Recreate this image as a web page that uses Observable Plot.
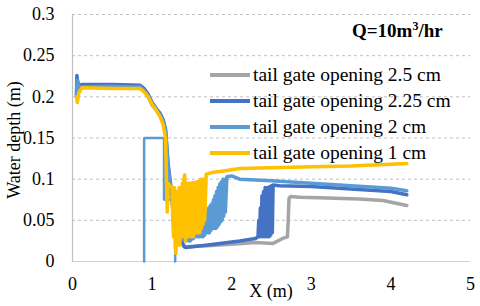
<!DOCTYPE html>
<html><head><meta charset="utf-8">
<script src="https://cdn.jsdelivr.net/npm/d3@7"></script>
<script src="https://cdn.jsdelivr.net/npm/@observablehq/plot@0.6"></script>
<style>
html,body{margin:0;padding:0;background:#fff;}
#chart{width:480px;height:306px;overflow:hidden;}
#chart svg, #chart svg text{font-family:'Liberation Serif','Times New Roman',serif !important;}
</style></head><body><div id="chart"></div>
<script>
const seriesNames = ["tail gate opening 2.5 cm","tail gate opening 2.25 cm","tail gate opening 2 cm","tail gate opening 1 cm"];
const seriesColors = ["#A5A5A5","#4472C4","#5B9BD5","#FFC000"];
const xTicks = [0,1,2,3,4,5];
const yTicks = [0,0.05,0.1,0.15,0.2,0.25,0.3];
const titleText = "Q=10m";
const titleSup = "3";
const titleTail = "/hr";
const xLabel = "X (m)";
const yLabel = "Water depth (m)";

const gate25 = [[0.05,0.205],[0.06,0.222],[0.08,0.212],[0.5,0.212],[0.85,0.211],[0.9,0.207],[0.95,0.2],[1.0,0.19],[1.05,0.184],[1.1,0.177],[1.14,0.168],[1.17,0.155],[1.2,0.11],[1.25,0.07],[1.3,0.04],[1.35,0.025],[1.42,0.018],[1.7,0.019],[2.0,0.021],[2.3,0.023],[2.52,0.022],[2.64,0.028],[2.7,0.03],[2.71,0.05],[2.72,0.077],[2.74,0.079],[2.86,0.078],[3.2,0.077],[3.6,0.076],[3.9,0.074],[4.2,0.068]];
const gate225 = [[0.05,0.2],[0.055,0.226],[0.07,0.213],[0.12,0.215],[0.5,0.215],[0.85,0.214],[0.9,0.21],[0.95,0.203],[1.0,0.193],[1.05,0.186],[1.1,0.18],[1.14,0.172],[1.17,0.16],[1.2,0.12],[1.25,0.08],[1.3,0.05],[1.35,0.03],[1.4,0.018],[1.42,0.017],[1.7,0.02],[2.1,0.025],[2.3,0.028],[2.33,0.03],[2.34,0.05],[2.35,0.03],[2.36,0.065],[2.37,0.03],[2.38,0.08],[2.39,0.03],[2.4,0.085],[2.41,0.03],[2.42,0.09],[2.43,0.03],[2.44,0.09],[2.45,0.03],[2.46,0.09],[2.47,0.03],[2.48,0.091],[2.49,0.032],[2.5,0.092],[2.51,0.035],[2.52,0.093],[2.6,0.092],[3.0,0.091],[3.5,0.088],[4.0,0.085],[4.2,0.081]];
const gate2 = [[0.05,0.202],[0.06,0.22],[0.08,0.212],[0.5,0.213],[0.85,0.212],[0.9,0.208],[0.95,0.201],[1.0,0.191],[1.05,0.185],[1.1,0.178],[1.14,0.17],[1.17,0.157],[1.2,0.115],[1.25,0.075],[1.3,0.045],[1.35,0.03],[1.42,0.025],[1.44,0.03],[1.45,0.05],[1.46,0.025],[1.47,0.05],[1.48,0.025],[1.49,0.055],[1.5,0.027],[1.51,0.05],[1.52,0.028],[1.53,0.052],[1.54,0.03],[1.55,0.055],[1.56,0.03],[1.57,0.055],[1.58,0.03],[1.59,0.058],[1.6,0.03],[1.61,0.06],[1.62,0.03],[1.63,0.058],[1.64,0.03],[1.65,0.06],[1.66,0.032],[1.67,0.06],[1.68,0.035],[1.69,0.06],[1.7,0.035],[1.71,0.065],[1.72,0.035],[1.73,0.068],[1.74,0.038],[1.75,0.07],[1.76,0.04],[1.77,0.075],[1.78,0.04],[1.79,0.08],[1.8,0.04],[1.81,0.085],[1.82,0.042],[1.83,0.09],[1.84,0.045],[1.85,0.094],[1.86,0.048],[1.87,0.097],[1.88,0.05],[1.89,0.1],[1.9,0.055],[1.91,0.1],[1.92,0.06],[1.94,0.103],[2.0,0.104],[2.1,0.1],[2.5,0.098],[3.0,0.095],[3.5,0.092],[4.0,0.089],[4.2,0.086]];
const gate1 = [[0.05,0.2],[0.06,0.193],[0.08,0.205],[0.12,0.211],[0.5,0.21],[0.85,0.21],[0.9,0.206],[0.95,0.2],[1.0,0.191],[1.05,0.184],[1.1,0.176],[1.14,0.166],[1.17,0.15],[1.18,0.1],[1.19,0.06],[1.2,0.095],[1.22,0.092],[1.25,0.09],[1.26,0.05],[1.27,0.03],[1.28,0.09],[1.29,0.02],[1.3,0.01],[1.31,0.085],[1.32,0.04],[1.33,0.02],[1.34,0.09],[1.35,0.02],[1.36,0.09],[1.37,0.03],[1.38,0.095],[1.39,0.03],[1.4,0.1],[1.41,0.105],[1.42,0.025],[1.43,0.095],[1.44,0.03],[1.45,0.095],[1.46,0.03],[1.47,0.095],[1.48,0.03],[1.49,0.095],[1.5,0.03],[1.51,0.096],[1.52,0.03],[1.53,0.096],[1.54,0.035],[1.55,0.096],[1.56,0.035],[1.57,0.097],[1.58,0.035],[1.59,0.098],[1.6,0.035],[1.61,0.1],[1.62,0.04],[1.63,0.1],[1.64,0.045],[1.65,0.1],[1.66,0.05],[1.68,0.106],[1.75,0.108],[1.9,0.11],[2.1,0.113],[2.5,0.114],[3.0,0.115],[3.5,0.116],[3.7,0.117],[4.0,0.118],[4.2,0.119]];
const gateShape = [[0.9,0],[0.9,0.15],[1.15,0.15],[1.15,0.075],[1.29,0.075],[1.29,0]];

const seriesData = [gate25, gate225, gate2, gate1];
const rows = [];
seriesData.forEach((arr, i) => arr.forEach(([x, y]) => rows.push({x, y, s: seriesNames[i]})));
const gateRows = gateShape.map(([x, y]) => ({x, y}));

const font = "'Liberation Serif', 'Times New Roman', serif";
const plot = Plot.plot({
  width: 480, height: 306,
  marginLeft: 72, marginRight: 10, marginTop: 14, marginBottom: 45,
  style: {fontFamily: font, fontSize: "18px", background: "#fff", color: "#000"},
  x: {domain: [0, 5]},
  y: {domain: [0, 0.3]},
  color: {domain: seriesNames, range: seriesColors},
  marks: [
    Plot.gridY(yTicks.filter(d => d > 0), {stroke: "#bfbfbf", strokeOpacity: 1, strokeDasharray: "3,3", strokeWidth: 1}),
    Plot.axisX({ticks: xTicks, tickSize: 0, tickPadding: 16, tickFormat: d => String(d), label: null, fill: "#000"}),
    Plot.axisY({ticks: yTicks, tickSize: 0, tickPadding: 18, tickFormat: d => String(+d.toFixed(2)), label: null, fill: "#000"}),
    Plot.ruleY([0], {stroke: "#d0d0d0", strokeWidth: 1.2}),
    Plot.ruleX([0], {stroke: "#bfbfbf", strokeWidth: 1.2}),
    Plot.line(gateRows, {x: "x", y: "y", stroke: seriesColors[2], strokeWidth: 2.5, strokeLinejoin: "miter"}),
    Plot.line(rows, {x: "x", y: "y", z: "s", stroke: "s", strokeWidth: 3.5, strokeLinejoin: "round", curve: "linear"})
  ]
});
document.getElementById("chart").appendChild(plot);

const svg = d3.select(plot);
// title
const t = svg.append("text").attr("x", 352).attr("y", 37).attr("text-anchor", "start").attr("font-size", 19).attr("font-weight", "bold").attr("fill", "#000");
t.append("tspan").text(titleText);
t.append("tspan").attr("font-size", 12).attr("dy", -7).text(titleSup);
t.append("tspan").attr("dy", 7).text(titleTail);
// legend
const lg = svg.append("g").attr("text-anchor", "start");
seriesNames.forEach((n, i) => {
  const yy = [75, 101, 127, 153][i];
  lg.append("line").attr("x1", 210).attr("x2", 250).attr("y1", yy).attr("y2", yy).attr("stroke", seriesColors[i]).attr("stroke-width", 4);
  lg.append("text").attr("x", 253).attr("y", yy).attr("dy", "0.32em").attr("text-anchor", "start").attr("font-size", 19.5).attr("fill", "#000").text(n);
});
// axis labels
svg.append("text").attr("x", 271).attr("y", 297).attr("text-anchor", "middle").attr("font-size", 18).attr("fill", "#000").text(xLabel);
svg.append("text").attr("transform", "translate(20,140) rotate(-90)").attr("text-anchor", "middle").attr("font-size", 18).attr("fill", "#000").text(yLabel);
</script></body></html>
